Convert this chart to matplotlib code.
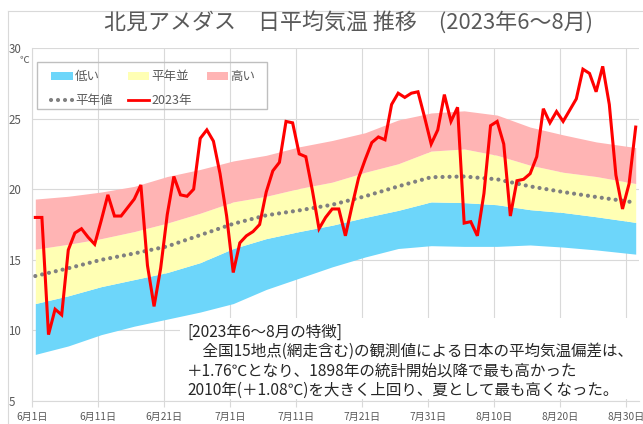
import numpy as np
import matplotlib.pyplot as plt
from matplotlib.patches import Patch, Rectangle
from matplotlib.lines import Line2D

plt.rcParams['font.family'] = ['Noto Sans CJK JP', 'DejaVu Sans']

# daily mean temperature 2023, Jun 1 .. Aug 31 (92 days)
temp2023 = [18.0, 18.0, 9.7, 11.5, 11.1, 15.7, 16.9, 17.2, 16.6, 16.1,
            17.8, 19.6, 18.1, 18.1, 18.7, 19.3, 20.3, 14.6, 11.7, 14.4,
            18.2, 20.9, 19.6, 19.5, 20.0, 23.6, 24.2, 23.4, 21.1, 18.1,
            14.1, 16.2, 16.7, 17.0, 17.5, 19.8, 21.3, 21.9, 24.8, 24.7,
            22.5, 22.3, 19.9, 17.2, 18.0, 18.6, 18.6, 16.7, 18.8, 20.8,
            22.1, 23.3, 23.7, 23.5, 26.0, 26.8, 26.5, 26.8, 26.9, 25.1,
            23.2, 24.2, 26.7, 24.8, 25.8, 17.6, 17.7, 16.7, 19.7, 24.5,
            24.8, 23.2, 18.1, 20.6, 20.7, 21.1, 22.3, 25.7, 24.7, 25.5,
            24.8, 25.6, 26.4, 28.5, 28.2, 26.9, 28.7, 26.0, 21.0, 18.6,
            20.4, 24.4]

# climatology bands (read every 5 days)
band_days = [0, 5, 10, 15, 20, 25, 30, 35, 40, 45, 50, 55, 60, 65, 70, 75, 80, 85, 91]
low_bottom = [8.3, 8.9, 9.7, 10.3, 10.8, 11.3, 11.9, 12.9, 13.7, 14.5, 15.2, 15.8,
              16.0, 15.95, 15.95, 16.05, 15.9, 15.7, 15.4]
low_top = [11.9, 12.45, 13.1, 13.6, 14.1, 14.8, 15.8, 16.5, 17.0, 17.45, 18.0, 18.5,
           19.1, 19.05, 18.9, 18.55, 18.35, 18.05, 17.65]
high_bottom = [15.75, 16.1, 16.5, 17.0, 17.6, 18.3, 19.1, 19.5, 20.05, 20.5, 21.2, 21.8,
               22.7, 22.85, 22.4, 21.7, 21.2, 20.9, 20.4]
high_top = [19.3, 19.5, 19.8, 20.2, 20.9, 21.4, 22.0, 22.4, 23.0, 23.45, 24.0, 24.9,
            25.4, 25.55, 25.25, 24.4, 23.85, 23.35, 22.95]
normal = [13.85, 14.4, 15.0, 15.45, 15.95, 16.75, 17.55, 18.15, 18.5, 18.9, 19.5, 20.2,
          20.85, 20.9, 20.7, 20.2, 19.8, 19.45, 19.05]

tick_labels = ['6月1日', '6月11日', '6月21日', '7月1日', '7月11日',
               '7月21日', '7月31日', '8月10日', '8月20日', '8月30日']

c_low = '#6DD6FA'
c_mid = '#FFFFB4'
c_high = '#FFB4B4'
c_text = '#595959'
c_grid = '#D9D9D9'

W, H = 643, 424
fig = plt.figure(figsize=(W / 100, H / 100), dpi=100)
ax = fig.add_axes([32 / W, (H - 401) / H, (639 - 32) / W, (401 - 48) / H])

days = np.arange(len(temp2023))
ax.fill_between(band_days, low_bottom, low_top, color=c_low, lw=0)
ax.fill_between(band_days, low_top, high_bottom, color=c_mid, lw=0)
ax.fill_between(band_days, high_bottom, high_top, color=c_high, lw=0)
ax.plot(band_days, normal, color='#808080', lw=3, linestyle=(0, (0.01, 1.67)),
        dash_capstyle='round')
ax.plot(days, temp2023, color='#FF0000', lw=2.2, solid_joinstyle='miter')

ax.set_xlim(-0.5, 91.5)
ax.set_ylim(5, 30)
ax.set_xticks(np.arange(-0.5, 90, 10))
ax.set_xticklabels(tick_labels)
ax.set_yticks([5, 10, 15, 20, 25, 30])
ax.grid(color=c_grid, lw=0.8)
ax.set_axisbelow(True)
for s in ['top', 'right']:
    ax.spines[s].set_visible(False)
for s in ['left', 'bottom']:
    ax.spines[s].set_color(c_grid)
    ax.spines[s].set_linewidth(0.8)
ax.tick_params(axis='x', length=4, color=c_grid, labelsize=7.3, labelcolor=c_text, pad=4)
ax.tick_params(axis='y', length=0, labelsize=8.3, labelcolor=c_text, pad=17)
for lbl in ax.get_yticklabels():
    lbl.set_ha('left')

fig.text(24 / W, 1 - 60 / H, '℃', fontsize=7, color=c_text, ha='center', va='center')

# legend
handles = [Patch(facecolor=c_low), Line2D([], [], color='#808080', lw=3, linestyle=(0, (0.01, 1.67)), dash_capstyle='round'),
           Patch(facecolor=c_mid), Line2D([], [], color='#FF0000', lw=2),
           Patch(facecolor=c_high)]
labels = ['低い', '平年値', '平年並', '2023年', '高い']
leg = fig.legend(handles, labels, ncol=3, loc='upper left', bbox_to_anchor=(45 / W, 1 - 64 / H),
                 frameon=False, fontsize=9, borderpad=0, handlelength=1.7, handleheight=0.65,
                 handletextpad=0.2, columnspacing=1.2, labelspacing=0.85, labelcolor=c_text)
fig.patches.append(Rectangle((37 / W, 1 - 109 / H), 230 / W, 47 / H, transform=fig.transFigure,
                             facecolor='none', edgecolor='#BFBFBF', lw=1, zorder=2))

# note box
fig.patches.append(Rectangle((180 / W, (H - 399) / H), 460 / W, 81 / H, transform=fig.transFigure,
                             facecolor='white', edgecolor='none', zorder=1))
notes = ['[2023年6～8月の特徴]',
         '　全国15地点(網走含む)の観測値による日本の平均気温偏差は、',
         '＋1.76℃となり、1898年の統計開始以降で最も高かった',
         '2010年(＋1.08℃)を大きく上回り、夏として最も高くなった。']
for i, line in enumerate(notes):
    fig.text(187 / W, 1 - (332 + 19.3 * i) / H, line, fontsize=11.2, color='#262626',
             ha='left', va='center', zorder=3)

fig.text(349 / W, 1 - 22 / H, '北見アメダス　日平均気温 推移　(2023年6～8月)',
         fontsize=15.8, color=c_text, ha='center', va='center')

# outer chart border
fig.add_artist(Line2D([8 / W, 1], [1 - 11 / H, 1 - 11 / H], color=c_grid, lw=0.8))
fig.add_artist(Line2D([8 / W, 8 / W], [0, 1 - 11 / H], color=c_grid, lw=0.8))

fig.savefig('out.png', dpi=100)
